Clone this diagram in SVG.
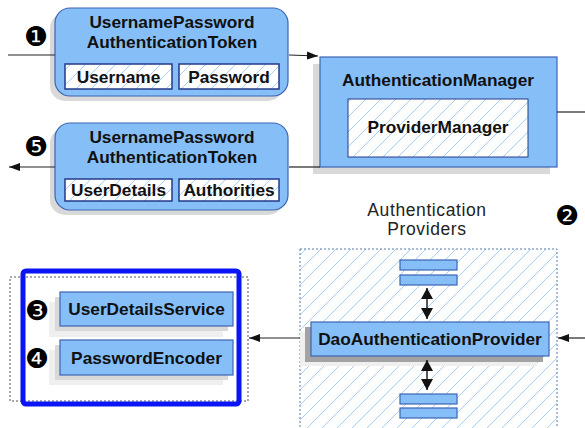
<svg xmlns="http://www.w3.org/2000/svg" width="585" height="428" viewBox="0 0 585 428">
<style>
.box{fill:#86bff8;stroke:#3d64b4;stroke-width:1.2}
.inner{fill:url(#hatch);stroke:#233a8a;stroke-width:1.5}
.sh1{fill:#d9d9d9}
.sh2{fill:#a3a3a3}
.sh3{fill:#efefef}
.t{font-family:"Liberation Sans",Arial,sans-serif;font-weight:bold;font-size:17.3px;fill:#111;text-anchor:middle}
.tt{font-family:"Liberation Sans",Arial,sans-serif;font-size:17.5px;letter-spacing:0.6px;fill:#222;text-anchor:middle}
.num{font-family:"DejaVu Sans",sans-serif;font-size:27px;fill:#000;text-anchor:middle}
.ln{stroke:#222;stroke-width:1.2;fill:none}
</style>
<defs>
<pattern id="hatch" patternUnits="userSpaceOnUse" width="15" height="15">
<rect width="15" height="15" fill="#fff"/>
<path d="M-2,2 L2,-2 M0,15 L15,0 M13,17 L17,13" stroke="#a9cff5" stroke-width="1"/>
</pattern>
<marker id="ah" markerWidth="12" markerHeight="10" refX="11" refY="5" orient="auto" markerUnits="userSpaceOnUse">
<path d="M0,1 L11,5 L0,9 Z" fill="#111"/>
</marker>
<marker id="ahs" markerWidth="12" markerHeight="12" refX="11" refY="6" orient="auto-start-reverse" markerUnits="userSpaceOnUse">
<path d="M0,0 L11,6 L0,12 Z" fill="#111"/>
</marker>
</defs>
<rect width="585" height="428" fill="#fff"/>

<g id="token1">
<rect class="sh1" x="50" y="13" width="233" height="88" rx="15"/>
<rect class="box" x="55" y="8" width="233" height="88" rx="15"/>
<text class="t" x="172" y="28">UsernamePassword</text>
<text class="t" x="172" y="48">AuthenticationToken</text>
<rect class="inner" x="65" y="64" width="107" height="25"/>
<text class="t" x="118.5" y="83">Username</text>
<rect class="inner" x="179" y="64" width="100" height="25"/>
<text class="t" x="229" y="83">Password</text>
</g>

<g id="token2">
<rect class="sh1" x="50" y="128" width="233" height="87" rx="15"/>
<rect class="box" x="55" y="123" width="233" height="87" rx="15"/>
<text class="t" x="172" y="143">UsernamePassword</text>
<text class="t" x="172" y="163">AuthenticationToken</text>
<rect class="inner" x="65" y="179" width="107" height="22"/>
<text class="t" x="118.5" y="196">UserDetails</text>
<rect class="inner" x="179" y="179" width="100" height="22"/>
<text class="t" x="229" y="196">Authorities</text>
</g>

<g id="authManager">
<rect class="sh1" x="313" y="64" width="237" height="110"/>
<rect class="box" x="320" y="57" width="237" height="110"/>
<text class="t" x="438" y="86">AuthenticationManager</text>
<rect class="inner" x="348" y="99" width="180" height="58" style="stroke-width:1"/>
<text class="t" x="438" y="133">ProviderManager</text>
</g>

<g id="numbers">
<text class="num" x="36" y="46">❶</text>
<text class="num" x="36" y="156">❺</text>
<text class="num" x="567" y="225">❷</text>
<text class="num" x="37" y="320">❸</text>
<text class="num" x="37" y="368">❹</text>
</g>

<g id="providers">
<text class="tt" x="427" y="216">Authentication</text>
<text class="tt" x="427" y="235">Providers</text>
<rect x="300" y="249" width="257" height="182" fill="url(#hatch)" stroke="#5a7bb0" stroke-width="1" stroke-dasharray="2,2"/>
<rect class="box" x="400" y="260" width="57" height="10"/>
<rect class="box" x="400" y="275" width="57" height="10"/>
<rect class="box" x="400" y="394" width="57" height="10"/>
<rect class="box" x="400" y="408" width="57" height="10"/>
</g>

<g id="daoProvider">
<rect class="sh3" x="300" y="332" width="237" height="34"/>
<rect class="sh2" x="305" y="327" width="238" height="35"/>
<rect class="box" x="311" y="322" width="238" height="34"/>
<text class="t" x="430" y="345">DaoAuthenticationProvider</text>
</g>

<g id="services">
<rect x="10" y="277" width="238" height="124" fill="none" stroke="#555" stroke-width="1" stroke-dasharray="2,2"/>
<rect x="23" y="271" width="216" height="133" rx="3" fill="none" stroke="#0a14f5" stroke-width="5"/>
</g>

<g id="userDetailsService">
<rect class="sh3" x="49" y="302" width="174" height="35"/>
<rect class="sh1" x="55" y="297" width="173" height="34"/>
<rect class="box" x="60" y="292" width="173" height="34"/>
<text class="t" x="146.5" y="315">UserDetailsService</text>
</g>

<g id="passwordEncoder">
<rect class="sh3" x="49" y="350" width="174" height="35"/>
<rect class="sh1" x="55" y="345" width="173" height="35"/>
<rect class="box" x="60" y="340" width="173" height="35"/>
<text class="t" x="146.5" y="364">PasswordEncoder</text>
</g>

<g id="connectors">
<line class="ln" x1="8" y1="55" x2="55" y2="55"/>
<line class="ln" x1="289" y1="55" x2="318" y2="56" marker-end="url(#ah)"/>
<line class="ln" x1="557" y1="112" x2="585" y2="112"/>
<line class="ln" x1="320" y1="167" x2="289" y2="167"/>
<line class="ln" x1="55" y1="167" x2="9" y2="167" marker-end="url(#ah)"/>
<line class="ln" x1="585" y1="338" x2="558" y2="338" marker-end="url(#ah)"/>
<line class="ln" x1="300" y1="338" x2="249" y2="338" marker-end="url(#ah)"/>
<line class="ln" x1="427" y1="288" x2="427" y2="319" marker-start="url(#ahs)" marker-end="url(#ahs)" style="stroke-width:1.5"/>
<line class="ln" x1="427" y1="360" x2="427" y2="390" marker-start="url(#ahs)" marker-end="url(#ahs)" style="stroke-width:1.5"/>
</g>
</svg>
